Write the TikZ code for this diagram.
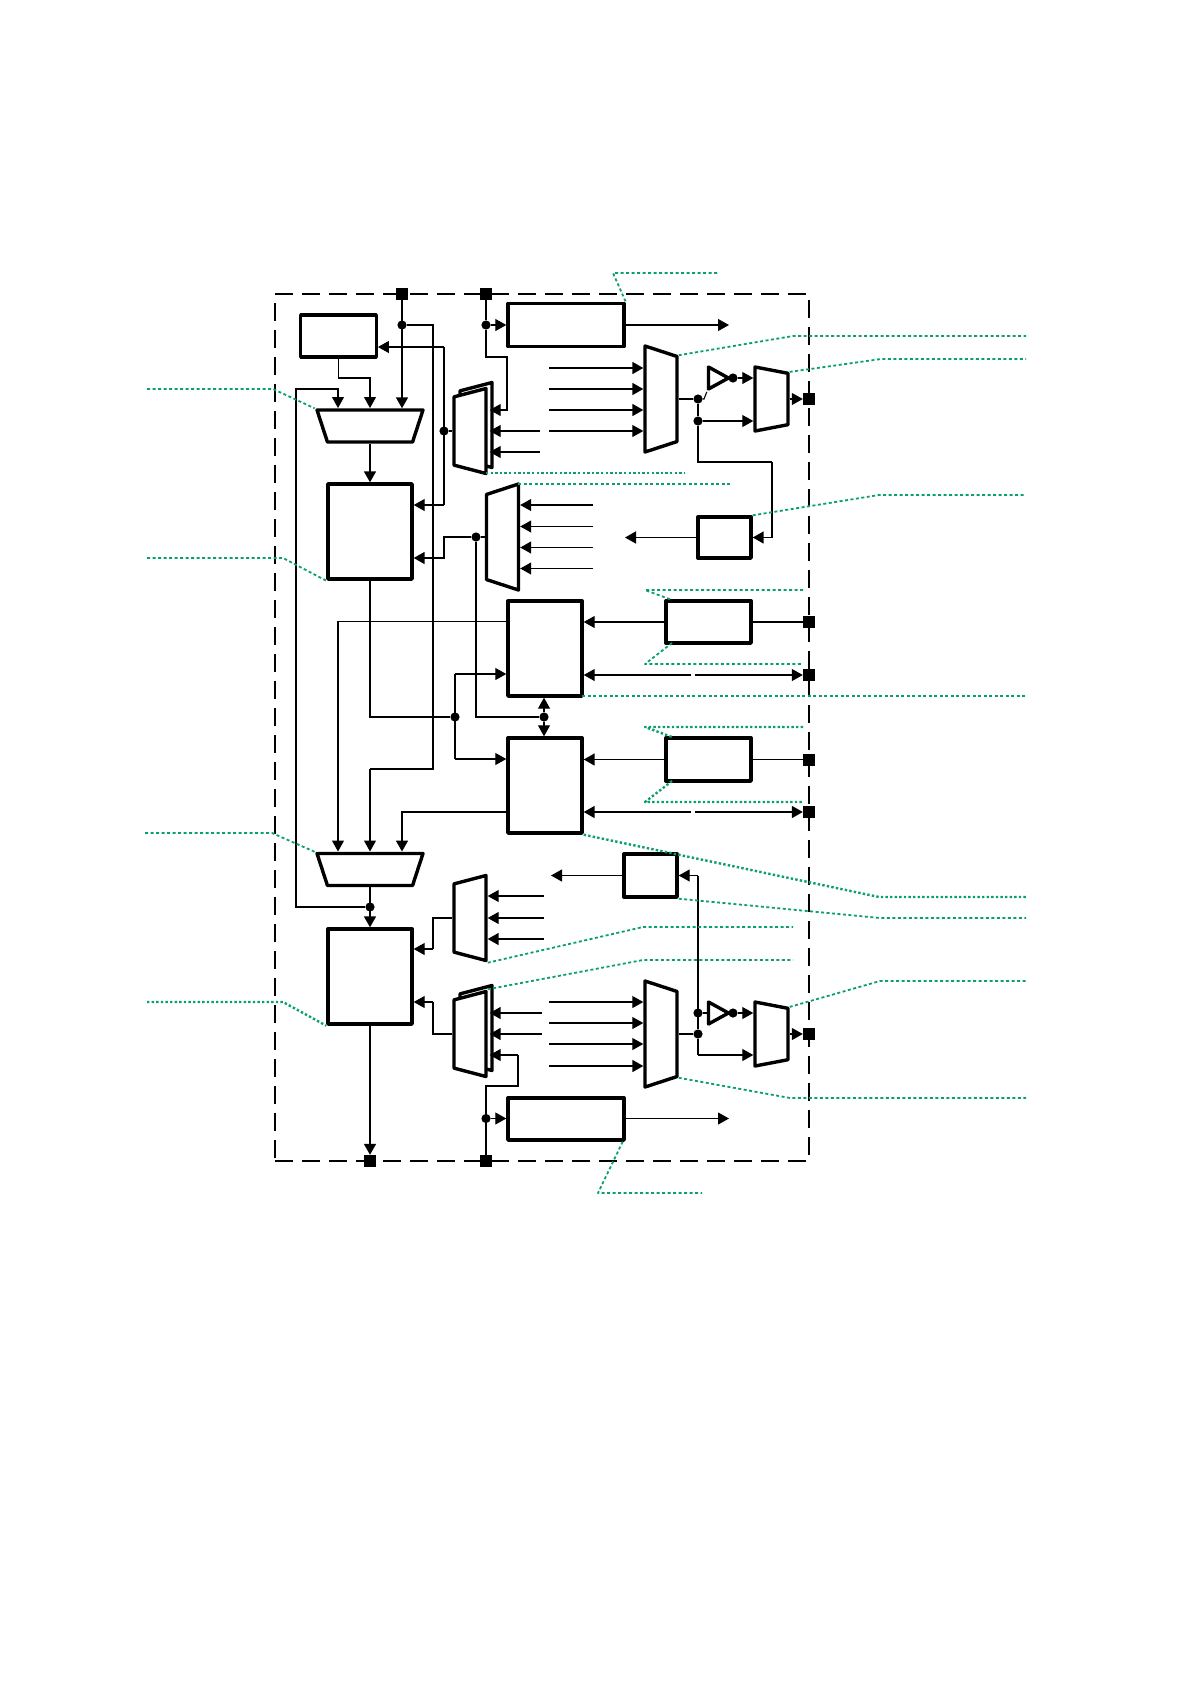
\documentclass[tikz,border=0pt]{standalone}
\usepackage{tikz}
\usetikzlibrary{arrows.meta,shapes.geometric}
\definecolor{leadgreen}{RGB}{10,160,105}
\tikzset{
      blockbox/.style={
        draw=black,
        line width=3.4pt,
        line join=round,
        fill=white,
        inner sep=0pt
      },
      muxbox/.style={
        blockbox,
        trapezium,
        trapezium stretches=true,
        inner sep=2pt,
        minimum width=106pt,
        minimum height=32pt,
        trapezium left angle=83,
        trapezium right angle=83
      },
      smallmux/.style={
        muxbox,
        minimum width=85pt
      },
      outmux/.style={
        muxbox,
        minimum width=64pt,
        minimum height=33pt
      },
      bufbox/.style={
        blockbox,
        isosceles triangle,
        isosceles triangle stretches=true,
        inner sep=2pt,
        minimum width=22pt,
        minimum height=20pt
      },
      port/.style={fill=black,minimum size=12pt,inner sep=0pt},
      dot/.style={circle,fill=black,minimum size=9.2pt,inner sep=0pt},
      frameline/.style={draw=black,line width=1.5pt,dash pattern=on 18pt off 9pt,minimum width=534pt,minimum height=867pt},
      sig/.style={line width=1.1pt},
      sigb/.style={line width=1.6pt},
      leader/.style={draw=leadgreen,line width=1.8pt,line join=round,dash pattern=on 3pt off 2.5pt},
      leaderb/.style={draw=leadgreen,line width=2.4pt,line join=round,dash pattern=on 2.4pt off 2.2pt}
    }
\begin{document}
\begin{tikzpicture}[x=1pt,y=-1pt,>={Triangle[length=11pt,width=12pt]}]
    \useasboundingbox (0,0) rectangle (1191,1684);
    \node[frameline] (frm) at (542,727.5) {};
    % blocks
    \node[blockbox,minimum width=75.5pt,minimum height=42pt] (vref) at (338.5,336) {};
    \node[blockbox,minimum width=116pt,minimum height=43pt] (tmra) at (566,325) {};
    \node[blockbox,minimum width=116pt,minimum height=42pt] (tmrb) at (566,1119) {};
    \node[blockbox,minimum width=84pt,minimum height=95pt] (adca) at (370,531.5) {};
    \node[blockbox,minimum width=84pt,minimum height=95pt] (adcb) at (370,976.5) {};
    \node[blockbox,minimum width=74pt,minimum height=95pt] (sera) at (545,648.5) {};
    \node[blockbox,minimum width=74pt,minimum height=95pt] (serb) at (545,785.5) {};
    \node[blockbox,minimum width=85pt,minimum height=42pt] (xcva) at (708.5,622) {};
    \node[blockbox,minimum width=85pt,minimum height=43pt] (xcvb) at (708.5,759.5) {};
    \node[blockbox,minimum width=53pt,minimum height=41pt] (capa) at (724.5,537.5) {};
    \node[blockbox,minimum width=53pt,minimum height=43pt] (capb) at (650.5,875.5) {};
    % multiplexers
    \node[muxbox,shape border rotate=180] (muxa) at (370,426) {};
    \node[muxbox,shape border rotate=180] (muxb) at (370,869.5) {};
    \node[muxbox,shape border rotate=90] (muxc) at (502.5,537) {};
    \node[muxbox,shape border rotate=270] (muxd) at (661,399) {};
    \node[muxbox,shape border rotate=270] (muxe) at (661,1034) {};
    \node[outmux,shape border rotate=270] (outa) at (771.5,399) {};
    \node[outmux,shape border rotate=270] (outb) at (771.5,1034) {};
    \node[smallmux,shape border rotate=90] (muxf) at (470,918) {};
    \node[smallmux,shape border rotate=90] (backa) at (476,425) {};
    \node[smallmux,shape border rotate=90] (fronta) at (470,431) {};
    \node[smallmux,shape border rotate=90] (backb) at (476,1028) {};
    \node[smallmux,shape border rotate=90] (frontb) at (470,1034) {};
    \node[bufbox] (bufa) at (714.5,378) {};
    \node[bufbox] (bufb) at (714.5,1013) {};
    % pads
    \node[port] (pvcc) at (402,294) {};
    \node[port] (pclka) at (486,294) {};
    \node[port] (pouta) at (809,399) {};
    \node[port] (prxa) at (809,622) {};
    \node[port] (ptxa) at (809,675) {};
    \node[port] (prxb) at (809,759.5) {};
    \node[port] (ptxb) at (809,812) {};
    \node[port] (poutb) at (809,1034) {};
    \node[port] (pgnd) at (370,1161) {};
    \node[port] (pclkb) at (486,1161) {};
    % junctions
    \node[dot] (jvcc) at (402,325) {};
    \node[dot] (jclka) at (486,325) {};
    \node[dot] (jsel) at (444,431) {};
    \node[dot] (jbus) at (476,537) {};
    \node[dot] (jadc) at (455,717) {};
    \node[dot] (jser) at (544,717) {};
    \node[dot] (jfb) at (370,907) {};
    \node[dot] (jclkb) at (486,1118.5) {};
    \node[dot] (joa) at (698,399) {};
    \node[dot] (jpa) at (698,421) {};
    \node[dot] (jba) at (733,378) {};
    \node[dot] (joc) at (698,1034) {};
    \node[dot] (jpc) at (698,1013) {};
    \node[dot] (jbb) at (733,1013) {};
    % power and reference
    \draw[->, sigb] (pvcc) -- (pvcc |- muxa.north);
    \draw[sig] (jvcc) -| (433,769) -- (370,769);
    \draw[->, sig] (370,769) -- (370,851.5);
    \coordinate (rfb) at (296,389);
    \draw[->, sig] (vref.south) |- (370,378) -- (370,408);
    \draw[->, sig] (jfb) -| (rfb) -| (338,408);
    \draw[->, sigb] (muxa.south) -- (adca.north);
    \coordinate (sla) at (444,347);
    \coordinate (slb) at (444,505);
    \draw[sigb] (sla) -- (slb);
    \draw[->, sig] (sla) -- (sla -| vref.east);
    \draw[->, sig] (slb) -- (slb -| adca.east);
    \draw[sig] (jsel) -- (fronta.west);
    % bus
    \coordinate (bsa) at (444,558);
    \draw[->, sigb] (jbus) -| (bsa) -- (bsa -| adca.east);
    \draw[sigb] (jbus) -- (muxc.west);
    \draw[sigb] (jbus) |- (jser);
    \draw[sigb] (adca.south) |- (jadc);
    \coordinate (saa) at (455,674);
    \coordinate (sab) at (455,759);
    \draw[sig] (saa) -- (sab);
    \draw[->, sig] (saa) -- (saa -| sera.west);
    \draw[->, sig] (sab) -- (sab -| serb.west);
    \draw[->, sig] (jser) -- (jser |- sera.south);
    \draw[->, sig] (jser) -- (jser |- serb.north);
    \coordinate (sra) at (508,621.5);
    \coordinate (srb) at (508,812);
    \draw[->, sig] (sra) -| (338,851.5);
    \draw[->, sigb] (srb) -| (402,851.5);
    \draw[->, sigb] (muxb.south) -- (adcb.north);
    % transceivers
    \draw[->, sig] (xcva.west) -- (xcva.west -| sera.east);
    \draw[sig] (xcva.east) -- (prxa);
    \draw[->, sigb] (xcvb.west) -- (xcvb.west -| serb.east);
    \draw[sigb] (xcvb.east) -- (prxb);
    \coordinate (gaa) at (691,675);
    \coordinate (gab) at (695,675);
    \coordinate (gba) at (691,812);
    \coordinate (gbb) at (695,812);
    \draw[->, sig] (gaa) -- (gaa -| sera.east);
    \draw[->, sig] (gab) -- (ptxa);
    \draw[->, sigb] (gba) -- (gba -| serb.east);
    \draw[->, sigb] (gbb) -- (ptxb);
    % top channel
    \draw[->, sig] (pclka) -- (jclka) -- (tmra.west);
    \coordinate (cka) at (507,410);
    \draw[->, sig] (jclka) |- (507,357) -- (cka) -- ([xshift=-4pt]cka -| backa.east);
    \coordinate (toa) at (729,325);
    \draw[->, sig] (tmra.east) -- (toa);
    \foreach \y in {431,452} {
      \coordinate (ia\y) at (540,\y);
      \draw[->, sig] (ia\y) -- ([xshift=-4pt]ia\y -| backa.east);
    }
    \foreach \y/\w in {368/sigb,389/sigb,410/sigb,431/sig} {
      \coordinate (ib\y) at (549,\y);
      \draw[->, \w] (ib\y) -- (ib\y -| muxd.west);
    }
    \foreach \y [count=\n] in {505,526.5,547.5,568.5} {
      \coordinate (ic\n) at (593,\y);
      \draw[->, sig] (ic\n) -- (ic\n -| muxc.east);
    }
    \draw[sig] (muxd.east) -- (joa);
    \draw[sig] (joa) -- ++(6,0) -- (bufa.right corner);
    \draw[sigb] (joa) -- (jpa);
    \draw[->, sig] (jba) -- (jba -| outa.west);
    \draw[->, sig] (jpa) -- (jpa -| outa.west);
    \draw[->, sig] (outa.east) -- (pouta);
    \coordinate (fba) at (772,462);
    \draw[sigb] (jpa) |- (fba);
    \draw[->, sigb] (fba) |- (capa.east);
    \coordinate (caout) at (625,537.5);
    \draw[->, sigb] (capa.west) -- (caout);
    % bottom channel
    \coordinate (cbin) at (698,875.5);
    \draw[sigb] (cbin) -- (joc);
    \draw[->, sig] (cbin) -- (capb.east);
    \coordinate (cbout) at (551,875.5);
    \draw[->, sig] (capb.west) -- (cbout);
    \foreach \y/\w in {896/sig,918/sig,939/sigb} {
      \coordinate (id\y) at (544,\y);
      \draw[->, \w] (id\y) -- (id\y -| muxf.east);
    }
    \foreach \y in {1013,1034} {
      \coordinate (ie\y) at (542,\y);
      \draw[->, sigb] (ie\y) -- ([xshift=-4pt]ie\y -| backb.east);
    }
    \foreach \y/\w in {1002/sig,1023/sig,1044/sig,1066/sigb} {
      \coordinate (if\y) at (549,\y);
      \draw[->, \w] (if\y) -- (if\y -| muxe.west);
    }
    \coordinate (mfa) at (433,949);
    \coordinate (mfb) at (433,1002);
    \draw[sig] (muxf.west) -| (mfa);
    \draw[->, sig] (mfa) -- (mfa -| adcb.east);
    \draw[sig] (frontb.west) -| (mfb);
    \draw[->, sig] (mfb) -- (mfb -| adcb.east);
    \coordinate (ckb) at (518,1055);
    \draw[sig] (pclkb) |- (518,1086) -- (ckb);
    \draw[->, sig] (ckb) -- ([xshift=-4pt]ckb -| backb.east);
    \draw[->, sig] (jclkb) -- (jclkb -| tmrb.west);
    \coordinate (tob) at (729,1118.5);
    \draw[->, sig] (tob -| tmrb.east) -- (tob);
    \draw[sigb] (muxe.east) -- (joc);
    \draw[sig] (jpc) -- (bufb.west);
    \draw[->, sig] (jbb) -- (jbb -| outb.west);
    \coordinate (pcb) at (698,1055);
    \draw[sig] (joc) -- (pcb);
    \draw[->, sig] (pcb) -- (pcb -| outb.west);
    \draw[->, sig] (outb.east) -- (poutb);
    \draw[->, sigb] (adcb.south) -- (pgnd);
    % leaders
    \draw[leader] (717,273) -- (613,273) -- (tmra.north east);
    \draw[leader] (muxd.top left corner) -- (793,336) -- (1026,336);
    \draw[leader] (outa.top left corner) -- (881,359) -- (1026,359);
    \draw[leader] (147,389) -- (273,389) -- (muxa.bottom right corner);
    \draw[leaderb] (486,473) -- (685,473);
    \draw[leader] (518,484) -- (730,484);
    \draw[leader] (capa.north east) -- (879,495) -- (1026,495);
    \draw[leader] (147,558) -- (283,558) -- (adca.south west);
    \draw[leader] (803,590) -- (645,590) -- (672,600);
    \draw[leader] (672,643) -- (645,664) -- (803,664);
    \draw[leader] (582,696) -- (1026,696);
    \draw[leaderb] (803,727) -- (645,727) -- (672,737);
    \draw[leaderb] (672,781) -- (645,802) -- (803,802);
    \draw[leaderb] (serb.south east) -- (879,897) -- (1026,897);
    \draw[leader] (capb.south east) -- (880,918) -- (1026,918);
    \draw[leader] (145,833) -- (272,833) -- (muxb.bottom right corner);
    \draw[leader] (muxf.bottom left corner) -- (643,927) -- (793,927);
    \draw[leader] (frontb.bottom right corner) -- (643,960) -- (793,960);
    \draw[leaderb] (147,1002) -- (283,1002) -- (adcb.south west);
    \draw[leader] (outb.top left corner) -- (880,981) -- (1026,981);
    \draw[leader] (muxe.top right corner) -- (790,1098) -- (1026,1098);
    \draw[leader] (tmrb.south east) ++(-3,0) -- (598,1193) -- (702,1193);
\end{tikzpicture}
\end{document}
